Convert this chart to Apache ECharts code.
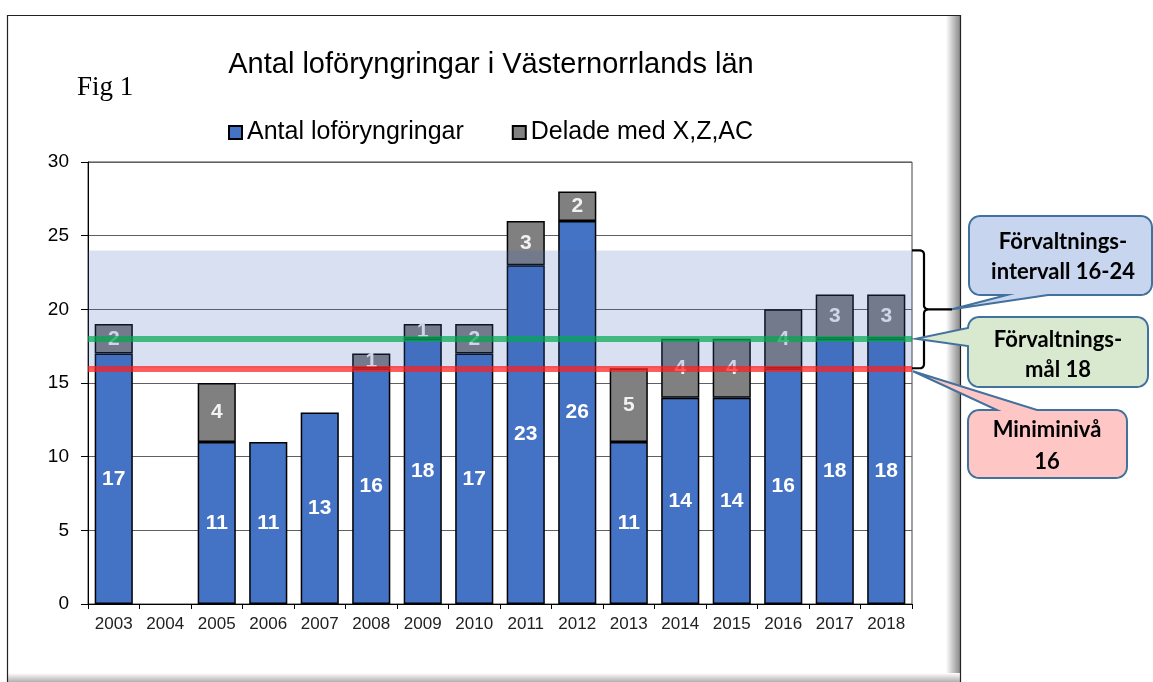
<!DOCTYPE html>
<html>
<head>
<meta charset="utf-8">
<script src="https://cdn.jsdelivr.net/npm/echarts@6/dist/echarts.min.js"></script>
<style>
html,body{margin:0;padding:0;background:#fff;}
#main{width:1153px;height:682px;}
</style>
</head>
<body>
<div id="main"></div>
<script>
// data
var years = ['2003','2004','2005','2006','2007','2008','2009','2010','2011','2012','2013','2014','2015','2016','2017','2018'];
var antal = [17, null, 11, 11, 13, 16, 18, 17, 23, 26, 11, 14, 14, 16, 18, 18];
var delade = [2, null, 4, null, null, 1, 1, 2, 3, 2, 5, 4, 4, 4, 3, 3];
var intervall = [16, 24];
var forvaltningsmal = 18;
var miniminiva = 16;
var yTicks = [0, 30, 5];

var FONT = '"Liberation Sans", Arial, sans-serif';
var gridL = 88, gridT = 162, gridR = 241, gridB = 78;

var myChart = echarts.init(document.getElementById('main'));

var option = {
    animation : false,
    title : {
        text : 'Antal loföryngringar i Västernorrlands län',
        left : 491,
        textAlign : 'center',
        top : 50,
        padding : 0,
        textStyle : {
            fontFamily : FONT,
            fontSize : 29,
            fontWeight : 'normal',
            color : '#000'
        }
    },
    legend : {
        left : 223,
        top : 115,
        itemWidth : 13,
        itemHeight : 13,
        itemGap : 48,
        icon : 'rect',
        data : [ 'Antal loföryngringar', 'Delade med X,Z,AC' ],
        textStyle : {
            fontFamily : FONT,
            fontSize : 25,
            color : '#000'
        }
    },
    grid : {
        left : gridL,
        top : gridT,
        right : gridR,
        bottom : gridB,
        show : true,
        borderColor : '#404040',
        borderWidth : 1,
        backgroundColor : 'transparent'
    },
    xAxis : {
        type : 'category',
        data : years,
        axisLine : { lineStyle : { color : '#000', width : 1 } },
        axisTick : { show : true, length : 5, lineStyle : { color : '#000' } },
        axisLabel : {
            fontFamily : FONT,
            fontSize : 17,
            color : '#222',
            margin : 12
        }
    },
    yAxis : {
        type : 'value',
        min : yTicks[0],
        max : yTicks[1],
        interval : yTicks[2],
        axisLine : { show : true, lineStyle : { color : '#000', width : 1 } },
        axisTick : { show : true, length : 7, lineStyle : { color : '#000' } },
        axisLabel : {
            fontFamily : FONT,
            fontSize : 19,
            color : '#000',
            margin : 19
        },
        splitLine : { lineStyle : { color : '#606060', width : 1 } }
    },
    series : [ {
        name : 'Antal loföryngringar',
        type : 'bar',
        stack : 'tot',
        barCategoryGap : '26%',
        data : antal,
        itemStyle : { color : '#4472c4', borderColor : '#000', borderWidth : 1.5 },
        label : {
            show : true,
            position : 'inside',
            color : '#fff',
            fontFamily : FONT,
            fontWeight : 'bold',
            fontSize : 21
        }
    }, {
        name : 'Delade med X,Z,AC',
        type : 'bar',
        stack : 'tot',
        data : delade,
        itemStyle : { color : '#808080', borderColor : '#000', borderWidth : 1.5 },
        label : {
            show : true,
            position : 'inside',
            color : '#f2f2f2',
            fontFamily : FONT,
            fontWeight : 'bold',
            fontSize : 21
        }
    }, {
        // band + reference lines drawn on top of the bars
        name : 'mal',
        type : 'line',
        data : [],
        silent : true,
        markArea : {
            z : 3,
            silent : true,
            itemStyle : { color : 'rgba(65,100,185,0.2)' },
            data : [ [ { yAxis : intervall[0] }, { yAxis : intervall[1] } ] ]
        },
        markLine : {
            z : 4,
            silent : true,
            symbol : [ 'none', 'none' ],
            label : { show : false },
            data : [
                { yAxis : forvaltningsmal, lineStyle : { color : 'rgba(0,170,80,0.7)', width : 6, type : 'solid' } },
                { yAxis : miniminiva, lineStyle : { color : 'rgba(255,30,30,0.72)', width : 6, type : 'solid' } }
            ]
        }
    } ]
};
myChart.setOption(option);

// rounded corner helper: points of an arc around (cx,cy)
function arcPts(cx, cy, r, a0, a1) {
    var pts = [];
    for (var i = 0; i <= 6; i++) {
        var a = a0 + (a1 - a0) * i / 6;
        pts.push([ cx + r * Math.cos(a), cy + r * Math.sin(a) ]);
    }
    return pts;
}

// callout box outline (clockwise) with a wedge on one edge
function callout(x, y, w, h, r, edge, a, b, tx, ty) {
    var P = Math.PI, pts = [];
    pts = pts.concat(arcPts(x + r, y + r, r, P, 1.5 * P));
    if (edge == 'top') pts.push([ a, y ], [ tx, ty ], [ b, y ]);
    pts = pts.concat(arcPts(x + w - r, y + r, r, 1.5 * P, 2 * P));
    pts = pts.concat(arcPts(x + w - r, y + h - r, r, 0, 0.5 * P));
    if (edge == 'bottom') pts.push([ b, y + h ], [ tx, ty ], [ a, y + h ]);
    pts = pts.concat(arcPts(x + r, y + h - r, r, 0.5 * P, P));
    if (edge == 'left') pts.push([ x, b ], [ tx, ty ], [ x, a ]);
    return pts;
}

var y24 = myChart.convertToPixel({ yAxisIndex : 0 }, intervall[1]);
var y16 = myChart.convertToPixel({ yAxisIndex : 0 }, intervall[0]);
var y18 = myChart.convertToPixel({ yAxisIndex : 0 }, forvaltningsmal);
var ymid = (y24 + y16) / 2;
var xR = 1153 - gridR;
var bx = 924, spikeX = 952;

var brTop = [ [ xR, y24 ] ].concat(arcPts(bx - 4, y24 + 4, 4, -0.5 * Math.PI, 0))
    .concat(arcPts(bx + 4, ymid - 4, 4, Math.PI, 0.5 * Math.PI)).concat([ [ spikeX, ymid ] ]);
var brBot = arcPts(bx + 4, ymid + 4, 4, 1.5 * Math.PI, Math.PI)
    .concat(arcPts(bx - 4, y16 - 4, 4, 0, 0.5 * Math.PI)).concat([ [ xR, y16 ] ]);

var boxFont = 'bold 22px Lato, "Open Sans", sans-serif';
var boxStroke = '#41719c';

myChart.setOption({
    graphic : [
        { type : 'rect', z : -10, silent : true,
          shape : { x : 946, y : 15, width : 14, height : 667 },
          style : { fill : new echarts.graphic.LinearGradient(0, 0, 1, 0, [ { offset : 0, color : '#ffffff' }, { offset : 1, color : '#8a8a8a' } ]) } },
        { type : 'rect', z : -10, silent : true,
          shape : { x : 7, y : 673, width : 953, height : 9 },
          style : { fill : new echarts.graphic.LinearGradient(0, 0, 0, 1, [ { offset : 0, color : '#ffffff' }, { offset : 1, color : '#b0b0b0' } ]) } },
        { type : 'rect', z : -9, silent : true,
          shape : { x : 7.5, y : 15.5, width : 953, height : 680 },
          style : { fill : 'none', stroke : '#222', lineWidth : 1.2 } },
        { type : 'text', silent : true, x : 77, y : 88,
          style : { text : 'Fig 1', font : '27px "Liberation Serif", "Times New Roman", serif', fill : '#000', verticalAlign : 'middle' } },
        { type : 'polyline', silent : true, z : 10,
          shape : { points : brTop },
          style : { fill : null, stroke : '#000', lineWidth : 2.2 } },
        { type : 'polyline', silent : true, z : 10,
          shape : { points : brBot },
          style : { fill : null, stroke : '#000', lineWidth : 2.2 } },
        { type : 'polygon', silent : true, z : 10,
          shape : { points : callout(969, 216, 183, 79, 11, 'bottom', 1007, 1048, spikeX, ymid) },
          style : { fill : '#c8d5ee', stroke : boxStroke, lineWidth : 2 } },
        { type : 'polygon', silent : true, z : 10,
          shape : { points : callout(968, 317, 180, 70, 11, 'left', 328, 346, 916, y18) },
          style : { fill : '#d9e9d0', stroke : boxStroke, lineWidth : 2 } },
        { type : 'polygon', silent : true, z : 10,
          shape : { points : callout(968, 410, 159, 68, 11, 'top', 997, 1037, 913, y16 + 3) },
          style : { fill : '#ffc6c6', stroke : boxStroke, lineWidth : 2 } },
        { type : 'text', silent : true, z : 11, x : 1063, y : 257,
          style : { text : 'Förvaltnings-\nintervall 16-24', font : boxFont, fill : '#000', align : 'center', verticalAlign : 'middle', lineHeight : 30 } },
        { type : 'text', silent : true, z : 11, x : 1058, y : 355,
          style : { text : 'Förvaltnings-\nmål 18', font : boxFont, fill : '#000', align : 'center', verticalAlign : 'middle', lineHeight : 30 } },
        { type : 'text', silent : true, z : 11, x : 1047, y : 446,
          style : { text : 'Miniminivå\n16', font : boxFont, fill : '#000', align : 'center', verticalAlign : 'middle', lineHeight : 32 } }
    ]
});

window.onresize = myChart.resize;
</script>
</body>
</html>
